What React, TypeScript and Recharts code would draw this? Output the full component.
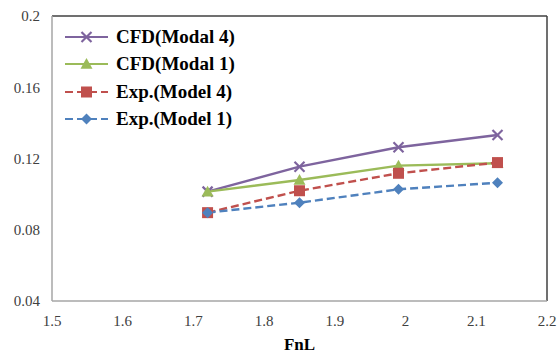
import React from 'react';
import { LineChart, Line, XAxis, YAxis, Legend, ReferenceLine, Label } from 'recharts';

const fnL = [1.72, 1.85, 1.99, 2.13];
const cfdModal4 = [0.1014, 0.1154, 0.1263, 0.1332];
const cfdModal1 = [0.1014, 0.1079, 0.116, 0.1173];
const expModel4 = [0.0896, 0.1019, 0.1117, 0.1177];
const expModel1 = [0.0896, 0.0952, 0.1027, 0.1064];

const xTicks = [1.5, 1.6, 1.7, 1.8, 1.9, 2, 2.1, 2.2];
const yTicks = [0.04, 0.08, 0.12, 0.16, 0.2];

const seriesNames = ['CFD(Modal 4)', 'CFD(Modal 1)', 'Exp.(Model 4)', 'Exp.(Model 1)'];
const seriesKeys = ['cfd4', 'cfd1', 'exp4', 'exp1'];
const seriesColors = ['#7E649E', '#9BBB59', '#C0504D', '#4F81BD'];
const seriesDash = [undefined, undefined, '8 4', '8 4'];
const seriesShape = ['cross', 'triangle', 'square', 'diamond'];

const data = fnL.map((x, i) => ({
  x,
  cfd4: cfdModal4[i],
  cfd1: cfdModal1[i],
  exp4: expModel4[i],
  exp1: expModel1[i],
}));

function Marker({ shape, cx, cy, color }: { shape: string; cx: number; cy: number; color: string }) {
  if (cx == null || cy == null) return null;
  if (shape === 'cross') {
    const s = 5;
    return (
      <g stroke={color} strokeWidth={2.2}>
        <line x1={cx - s} y1={cy - s} x2={cx + s} y2={cy + s} />
        <line x1={cx - s} y1={cy + s} x2={cx + s} y2={cy - s} />
      </g>
    );
  }
  if (shape === 'triangle') {
    const s = 6;
    return <polygon points={`${cx},${cy - s} ${cx + s},${cy + s * 0.8} ${cx - s},${cy + s * 0.8}`} fill={color} />;
  }
  if (shape === 'square') {
    const s = 5.5;
    return <rect x={cx - s} y={cy - s} width={2 * s} height={2 * s} fill={color} />;
  }
  const s = 5.5;
  return <polygon points={`${cx},${cy - s} ${cx + s},${cy} ${cx},${cy + s} ${cx - s},${cy}`} fill={color} />;
}

function makeDot(i: number) {
  return (props: any) => (
    <Marker key={`${seriesKeys[i]}-${props.index}`} shape={seriesShape[i]} cx={props.cx} cy={props.cy} color={seriesColors[i]} />
  );
}

function LegendContent() {
  return (
    <div style={{ fontFamily: '"Liberation Serif", "Times New Roman", serif', fontWeight: 'bold', fontSize: 19, color: '#000' }}>
      {seriesNames.map((name, i) => (
        <div key={name} style={{ display: 'flex', alignItems: 'center', height: 27.5 }}>
          <svg width={46} height={16} style={{ marginRight: 6 }}>
            <line x1={1} y1={8} x2={44} y2={8} stroke={seriesColors[i]} strokeWidth={2.2} strokeDasharray={seriesDash[i]} />
            <Marker shape={seriesShape[i]} cx={22.5} cy={8} color={seriesColors[i]} />
          </svg>
          <span>{name}</span>
        </div>
      ))}
    </div>
  );
}

export default function App() {
  const tickStyle = { fontFamily: '"Liberation Serif", "Times New Roman", serif', fontSize: 15, fill: '#404040' };
  return (
    <div style={{ position: 'absolute', left: 0, top: 0, width: 558, height: 354, background: '#fff' }}>
      <LineChart width={558} height={354} data={data} margin={{ top: 16, right: 11, bottom: 0, left: 0 }}>
        <XAxis
          dataKey="x"
          type="number"
          domain={[1.5, 2.2]}
          ticks={xTicks}
          tickLine={false}
          tickSize={0}
          tickMargin={14}
          height={53}
          axisLine={{ stroke: '#A6A6A6', strokeWidth: 1.5 }}
          tick={tickStyle}
          interval={0}
        >
          <Label
            value="FnL"
            position="insideBottom"
            offset={4}
            style={{ fontFamily: '"Liberation Serif", "Times New Roman", serif', fontWeight: 'bold', fontSize: 17, fill: '#000' }}
          />
        </XAxis>
        <YAxis
          type="number"
          domain={[0.04, 0.2]}
          ticks={yTicks}
          tickLine={false}
          tickSize={0}
          tickMargin={12}
          width={52}
          axisLine={{ stroke: '#A6A6A6', strokeWidth: 1.5 }}
          tick={tickStyle}
          interval={0}
        />
        <ReferenceLine y={0.2} stroke="#404040" strokeWidth={1.5} />
        <ReferenceLine x={2.2} stroke="#404040" strokeWidth={1.5} />
        <Legend
          layout="vertical"
          align="center"
          verticalAlign="middle"
          wrapperStyle={{ left: 64, top: 23, width: 230, height: 112 }}
          content={() => <LegendContent />}
        />
        {seriesKeys.map((k, i) => (
          <Line
            key={k}
            dataKey={k}
            name={seriesNames[i]}
            stroke={seriesColors[i]}
            strokeWidth={2.4}
            strokeDasharray={seriesDash[i]}
            dot={makeDot(i)}
            activeDot={false}
            isAnimationActive={false}
          />
        ))}
      </LineChart>
    </div>
  );
}
